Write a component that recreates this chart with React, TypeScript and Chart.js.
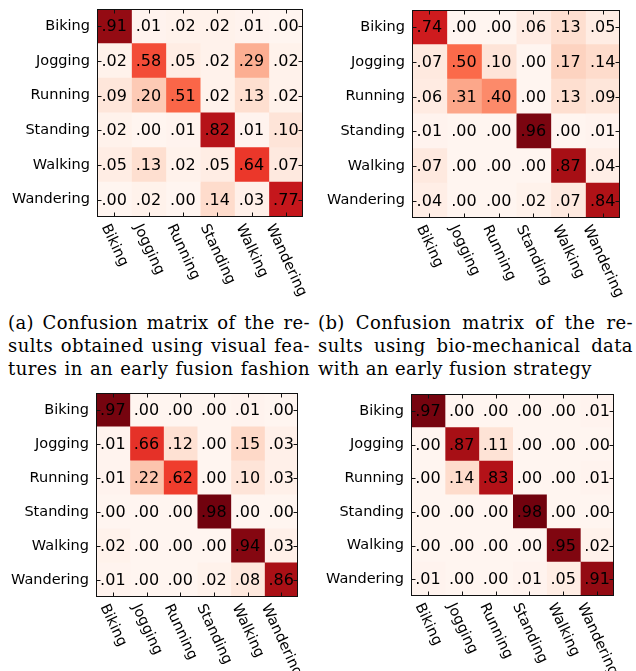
import React, { useEffect, useRef } from "react";
import { Chart, registerables } from "chart.js";

Chart.register(...registerables);

// ---------- data ----------
const activities = ["Biking", "Jogging", "Running", "Standing", "Walking", "Wandering"];

const matrixA = [
  [0.91, 0.01, 0.02, 0.02, 0.01, 0.0],
  [0.02, 0.58, 0.05, 0.02, 0.29, 0.02],
  [0.09, 0.2, 0.51, 0.02, 0.13, 0.02],
  [0.02, 0.0, 0.01, 0.82, 0.01, 0.1],
  [0.05, 0.13, 0.02, 0.05, 0.64, 0.07],
  [0.0, 0.02, 0.0, 0.14, 0.03, 0.77],
];

const matrixB = [
  [0.74, 0.0, 0.0, 0.06, 0.13, 0.05],
  [0.07, 0.5, 0.1, 0.0, 0.17, 0.14],
  [0.06, 0.31, 0.4, 0.0, 0.13, 0.09],
  [0.01, 0.0, 0.0, 0.96, 0.0, 0.01],
  [0.07, 0.0, 0.0, 0.0, 0.87, 0.04],
  [0.04, 0.0, 0.0, 0.02, 0.07, 0.84],
];

const matrixC = [
  [0.97, 0.0, 0.0, 0.0, 0.01, 0.0],
  [0.01, 0.66, 0.12, 0.0, 0.15, 0.03],
  [0.01, 0.22, 0.62, 0.0, 0.1, 0.03],
  [0.0, 0.0, 0.0, 0.98, 0.0, 0.0],
  [0.02, 0.0, 0.0, 0.0, 0.94, 0.03],
  [0.01, 0.0, 0.0, 0.02, 0.08, 0.86],
];

const matrixD = [
  [0.97, 0.0, 0.0, 0.0, 0.0, 0.01],
  [0.0, 0.87, 0.11, 0.0, 0.0, 0.0],
  [0.0, 0.14, 0.83, 0.0, 0.0, 0.01],
  [0.0, 0.0, 0.0, 0.98, 0.0, 0.0],
  [0.0, 0.0, 0.0, 0.0, 0.95, 0.02],
  [0.01, 0.0, 0.0, 0.01, 0.05, 0.91],
];

const captionA = [
  "(a) Confusion matrix of the re-",
  "sults obtained using visual fea-",
  "tures in an early fusion fashion",
];
const captionB = [
  "(b) Confusion matrix of the re-",
  "sults using bio-mechanical data",
  "with an early fusion strategy",
];

// ---------- colormap (matplotlib "Reds") ----------
const redsStops = [
  "#fff5f0", "#fee0d2", "#fcbba1", "#fc9272", "#fb6a4a",
  "#ef3b2c", "#cb181d", "#a50f15", "#67000d",
];
function hexToRgb(h: string) {
  return [parseInt(h.slice(1, 3), 16), parseInt(h.slice(3, 5), 16), parseInt(h.slice(5, 7), 16)];
}
function reds(v: number) {
  const t = Math.min(1, Math.max(0, v)) * (redsStops.length - 1);
  const i = Math.min(redsStops.length - 2, Math.floor(t));
  const f = t - i;
  const a = hexToRgb(redsStops[i]);
  const b = hexToRgb(redsStops[i + 1]);
  const c = a.map((x, k) => Math.round(x + (b[k] - x) * f));
  return `rgb(${c[0]},${c[1]},${c[2]})`;
}
function fmt(v: number) {
  return v.toFixed(2).replace(/^0/, "");
}

const SANS = "'DejaVu Sans', sans-serif";
const LABEL_SIZE = 14.5;

function makeDecorPlugin(matrix: number[][]) {
  return {
    id: "matrixDecor",
    afterDatasetsDraw(chart: any) {
      const ctx: CanvasRenderingContext2D = chart.ctx;
      const { left, right, top, bottom } = chart.chartArea;
      const xs = chart.scales.x;
      const ys = chart.scales.y;
      ctx.save();
      // cell values
      ctx.fillStyle = "#000";
      ctx.font = `16px ${SANS}`;
      ctx.textAlign = "center";
      ctx.textBaseline = "middle";
      chart.data.datasets.forEach((_: any, j: number) => {
        const meta = chart.getDatasetMeta(j);
        meta.data.forEach((el: any, i: number) => {
          const p = el.getProps(["x", "y", "base"], true);
          ctx.fillText(fmt(matrix[i][j]), (p.x + p.base) / 2, p.y + 1);
        });
      });
      // frame
      ctx.strokeStyle = "#111";
      ctx.lineWidth = 1;
      const L = Math.round(left) + 0.5;
      const R = Math.round(right) - 0.5;
      const T = Math.round(top) + 0.5;
      const B = Math.round(bottom) - 0.5;
      ctx.strokeRect(L, T, R - L, B - T);
      // inner ticks
      const tl = 4;
      ctx.beginPath();
      activities.forEach((_, k) => {
        const tx = Math.round(xs.getPixelForValue(k)) + 0.5;
        ctx.moveTo(tx, T);
        ctx.lineTo(tx, T + tl);
        ctx.moveTo(tx, B);
        ctx.lineTo(tx, B - tl);
        const ty = Math.round(ys.getPixelForValue(k)) + 0.5;
        ctx.moveTo(L, ty);
        ctx.lineTo(L + tl, ty);
        ctx.moveTo(R, ty);
        ctx.lineTo(R - tl, ty);
      });
      ctx.stroke();
      // rotated x labels
      const fs = LABEL_SIZE;
      ctx.font = `${fs}px ${SANS}`;
      ctx.textAlign = "left";
      ctx.textBaseline = "top";
      const th = (65 * Math.PI) / 180;
      activities.forEach((lab, k) => {
        const tx = xs.getPixelForValue(k);
        const w = ctx.measureText(lab).width;
        const h = fs * 1.05;
        const ax = tx - (w * Math.cos(th) - h * Math.sin(th)) / 2;
        const ay = bottom + 5;
        ctx.save();
        ctx.translate(ax, ay);
        ctx.rotate(th);
        ctx.fillText(lab, 0, 0);
        ctx.restore();
      });
      ctx.restore();
    },
  };
}

type Plot = { left: number; top: number; right: number; bottom: number };

function MatrixChart(props: {
  matrix: number[][];
  x: number;
  y: number;
  w: number;
  h: number;
  plot: Plot;
}) {
  const ref = useRef<HTMLCanvasElement | null>(null);
  const { matrix, x, y, w, h, plot } = props;
  useEffect(() => {
    if (!ref.current) return;
    const chart = new Chart(ref.current, {
      type: "bar",
      data: {
        labels: activities,
        datasets: activities.map((col, j) => ({
          label: col,
          data: matrix.map(() => [j - 0.5, j + 0.5]),
          backgroundColor: matrix.map((row) => reds(row[j])),
          borderWidth: 0,
          barPercentage: 1,
          categoryPercentage: 1,
          grouped: false,
          inflateAmount: 0.5,
        })) as any,
      },
      options: {
        indexAxis: "y",
        animation: false,
        responsive: false,
        events: [],
        layout: { padding: { left: 0, top: plot.top, right: w - plot.right, bottom: 0 } },
        plugins: { legend: { display: false }, tooltip: { enabled: false } },
        scales: {
          x: {
            type: "linear",
            min: -0.5,
            max: 5.5,
            grid: { display: false, drawTicks: false },
            border: { display: false },
            ticks: { display: false },
            afterFit: (s: any) => {
              s.height = h - plot.bottom;
              s.paddingLeft = 0;
              s.paddingRight = 0;
            },
          },
          y: {
            type: "category",
            offset: true,
            grid: { display: false, drawTicks: false },
            border: { display: false },
            ticks: { font: { family: SANS, size: LABEL_SIZE }, color: "#000", padding: 7 },
            afterFit: (s: any) => {
              s.width = plot.left;
              s.paddingTop = 0;
              s.paddingBottom = 0;
            },
          },
        },
      } as any,
      plugins: [makeDecorPlugin(matrix)],
    });
    return () => chart.destroy();
  }, [matrix, w, h, plot]);
  return (
    <canvas
      ref={ref}
      width={w}
      height={h}
      style={{ position: "absolute", left: x, top: y, width: w, height: h }}
    />
  );
}

const plotA = { left: 97, top: 9, right: 303, bottom: 217 };
const plotB = { left: 94, top: 10, right: 302, bottom: 218 };
const plotC = { left: 96, top: 8, right: 298, bottom: 212 };
const plotD = { left: 93, top: 9, right: 296, bottom: 211 };

function Caption(props: { lines: string[]; x: number; y: number; w: number; justifyLast: boolean }) {
  const { lines, x, y, w, justifyLast } = props;
  return (
    <div
      style={{
        position: "absolute",
        left: x,
        top: y,
        width: w,
        fontFamily: "'DejaVu Serif', serif",
        fontSize: 18,
        letterSpacing: "0.4px",
        lineHeight: "23px",
        color: "#000",
      }}
    >
      {lines.map((l, i) => (
        <div
          key={i}
          style={{
            textAlign: "justify",
            textAlignLast: i < lines.length - 1 || justifyLast ? "justify" : "left",
            whiteSpace: "nowrap",
          }}
        >
          {l}
        </div>
      ))}
    </div>
  );
}

export default function App() {
  return (
    <div
      style={{
        position: "absolute",
        left: 0,
        top: 0,
        width: 636,
        height: 671,
        background: "#fff",
        overflow: "hidden",
      }}
    >
      <MatrixChart matrix={matrixA} x={0} y={0} w={318} h={300} plot={plotA} />
      <MatrixChart matrix={matrixB} x={318} y={0} w={318} h={300} plot={plotB} />
      <MatrixChart matrix={matrixC} x={0} y={385} w={318} h={286} plot={plotC} />
      <MatrixChart matrix={matrixD} x={318} y={385} w={318} h={286} plot={plotD} />
      <Caption lines={captionA} x={8} y={311} w={302} justifyLast={true} />
      <Caption lines={captionB} x={318} y={311} w={315} justifyLast={false} />
    </div>
  );
}
